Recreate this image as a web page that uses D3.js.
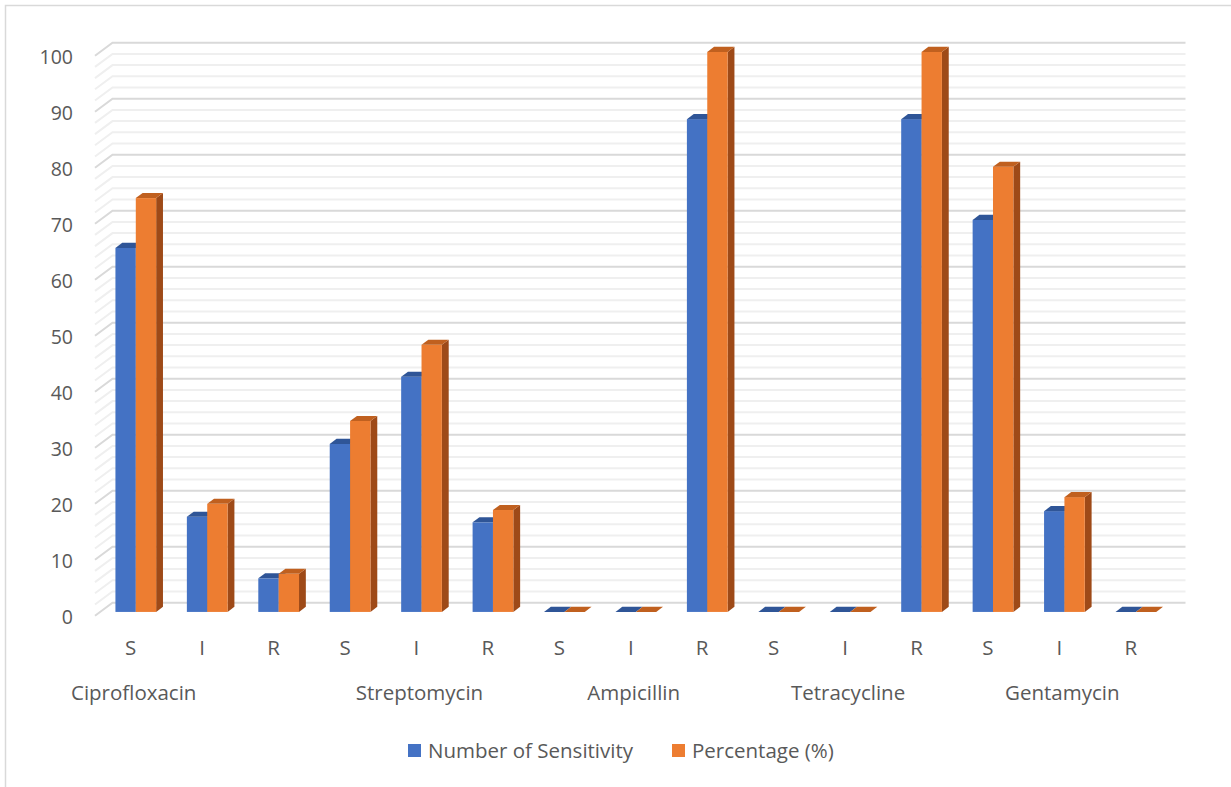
<!DOCTYPE html>
<html>
<head>
<meta charset="utf-8">
<script src="https://cdn.jsdelivr.net/npm/d3@7"></script>
<style>
  html, body { margin: 0; padding: 0; background: #fff; }
  svg { display: block; }
  text { font-family: "Open Sans", "Lato", sans-serif; fill: #595959; }
</style>
</head>
<body>
<svg id="chart" width="1231" height="787"></svg>
<script>
// ---- Data ----
const categories = ["S", "I", "R", "S", "I", "R", "S", "I", "R", "S", "I", "R", "S", "I", "R"];
const groupLabels = ["Ciprofloxacin", "Streptomycin", "Ampicillin", "Tetracycline", "Gentamycin"];
const groupLabelIndex = [0, 4, 7, 10, 13];
const seriesNames = ["Number of Sensitivity", "Percentage (%)"];
const numberOfSensitivity = [65, 17, 6, 30, 42, 16, 0, 0, 88, 0, 0, 88, 70, 18, 0];
const percentage = [73.9, 19.3, 6.8, 34.1, 47.7, 18.2, 0, 0, 100, 0, 0, 100, 79.5, 20.5, 0];
const yTicks = [0, 10, 20, 30, 40, 50, 60, 70, 80, 90, 100];
const minorTicks = d3.range(0, 101, 2);

// ---- Layout ----
const svg = d3.select("#chart");
const frontLeft = 95, frontRight = 1166.5;
const yFront0 = 615.7, yFront100 = 55.7;
const depth = { x: 17.5, y: -13 };     // full depth of the 3D box
const t0 = 0.29, t1 = 0.68;             // bar depth range
const fs = 20.5, fsY = 19.5;

const x = d3.scaleBand().domain(d3.range(categories.length))
  .range([frontLeft, frontRight]).paddingInner(0.43).paddingOuter(0.215);
const xc = d3.scaleBand().domain(d3.range(categories.length))
  .range([frontLeft, frontRight]);
const xs = d3.scaleBand().domain(seriesNames).range([0, x.bandwidth()]);
const y = d3.scaleLinear().domain([0, 100]).range([yFront0, yFront100]);

const colors = {
  "Number of Sensitivity": { front: "#4472C4", top: "#2F5597", side: "#2F528F" },
  "Percentage (%)": { front: "#ED7D31", top: "#C0601F", side: "#9E4A18" }
};

// Outer border
svg.append("rect").attr("x", 5.5).attr("y", 5.5).attr("width", 1240).attr("height", 800)
  .attr("fill", "none").attr("stroke", "#d9d9d9").attr("stroke-width", 1.5);

// Gridlines (left wall diagonal + back wall)
const backRight = frontRight + depth.x + 1.5;
const gridG = svg.append("g");
minorTicks.forEach(v => {
  const major = v % 10 === 0;
  gridG.append("polyline")
    .attr("points", [
      [frontLeft, y(v)],
      [frontLeft + depth.x, y(v) + depth.y],
      [backRight, y(v) + depth.y]
    ].map(p => p.join(",")).join(" "))
    .attr("fill", "none")
    .attr("stroke", major ? "#d9d9d9" : "#efefef")
    .attr("stroke-width", 2);
});

// Y axis labels
svg.append("g").selectAll("text").data(yTicks).join("text")
  .attr("x", 73).attr("y", d => y(d) + 1)
  .attr("text-anchor", "end").attr("dominant-baseline", "central")
  .attr("font-size", fsY).text(d => d);

// Bars
const rows = categories.map((c, i) => ({ i, values: [numberOfSensitivity[i], percentage[i]] }));
const d0 = { x: depth.x * t0, y: depth.y * t0 };
const d1 = { x: depth.x * t1, y: depth.y * t1 };
const barsG = svg.append("g");
rows.forEach(r => {
  seriesNames.forEach((s, si) => {
    const v = r.values[si];
    const xl = x(r.i) + xs(s), w = xs.bandwidth();
    const yt = y(v), yb = y(0);
    const col = colors[s];
    const g = barsG.append("g");
    g.append("polygon").attr("points", [
      [xl + w + d0.x, yt + d0.y], [xl + w + d1.x, yt + d1.y],
      [xl + w + d1.x, yb + d1.y], [xl + w + d0.x, yb + d0.y]
    ].map(p => p.join(",")).join(" ")).attr("fill", col.side);
    if (v > 0) {
      g.append("rect").attr("x", xl + d0.x).attr("y", yt + d0.y)
        .attr("width", w).attr("height", yb - yt).attr("fill", col.front);
    }
    g.append("polygon").attr("points", [
      [xl + d0.x, yt + d0.y], [xl + w + d0.x, yt + d0.y],
      [xl + w + d1.x, yt + d1.y], [xl + d1.x, yt + d1.y]
    ].map(p => p.join(",")).join(" ")).attr("fill", col.top);
  });
});

// Category labels
svg.append("g").selectAll("text").data(categories).join("text")
  .attr("x", (d, i) => xc(i) + xc.bandwidth() / 2)
  .attr("y", 655).attr("text-anchor", "middle")
  .attr("font-size", fs).text(d => d);

// Group labels
svg.append("g").selectAll("text").data(groupLabels).join("text")
  .attr("x", (d, i) => xc(groupLabelIndex[i]) + xc.bandwidth() / 2 + 3)
  .attr("y", 700).attr("text-anchor", "middle")
  .attr("font-size", fs).text(d => d);

// Legend
const legendX = [408, 672];
const lg = svg.append("g");
seriesNames.forEach((s, i) => {
  lg.append("rect").attr("x", legendX[i]).attr("y", 744).attr("width", 13).attr("height", 13)
    .attr("fill", colors[s].front);
  lg.append("text").attr("x", legendX[i] + 20).attr("y", 757.5).attr("font-size", fs).text(s);
});
</script>
</body>
</html>
